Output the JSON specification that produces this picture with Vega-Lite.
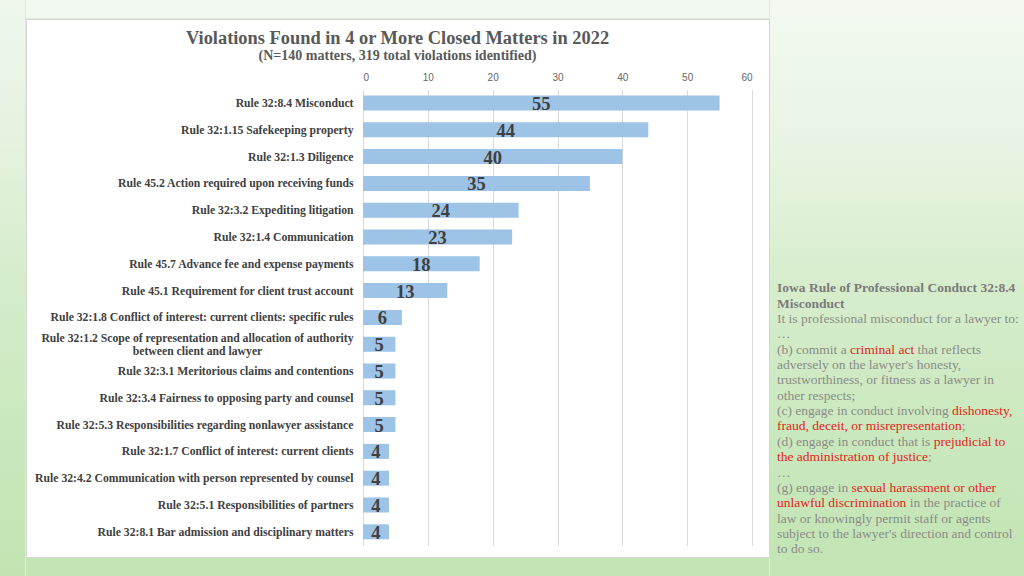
{
  "$schema": "https://vega.github.io/schema/vega-lite/v6.json",
  "padding": 0,
  "background": "#dcefd5",
  "spacing": 0,
  "config": {"view": {"stroke": null}, "concat": {"spacing": 0}},
  "datasets": {
    "blank": [{}],
    "violations": [
      {"rule": "Rule 32:8.4 Misconduct", "count": 55},
      {"rule": "Rule 32:1.15 Safekeeping property", "count": 44},
      {"rule": "Rule 32:1.3 Diligence", "count": 40},
      {"rule": "Rule 45.2 Action required upon receiving funds", "count": 35},
      {"rule": "Rule 32:3.2 Expediting litigation", "count": 24},
      {"rule": "Rule 32:1.4 Communication", "count": 23},
      {"rule": "Rule 45.7 Advance fee and expense payments", "count": 18},
      {"rule": "Rule 45.1 Requirement for client trust account", "count": 13},
      {"rule": "Rule 32:1.8 Conflict of interest: current clients: specific rules", "count": 6},
      {"rule": "Rule 32:1.2 Scope of representation and allocation of authority between client and lawyer", "count": 5},
      {"rule": "Rule 32:3.1 Meritorious claims and contentions", "count": 5},
      {"rule": "Rule 32:3.4 Fairness to opposing party and counsel", "count": 5},
      {"rule": "Rule 32:5.3 Responsibilities regarding nonlawyer assistance", "count": 5},
      {"rule": "Rule 32:1.7 Conflict of interest: current clients", "count": 4},
      {"rule": "Rule 32:4.2 Communication with person represented by counsel", "count": 4},
      {"rule": "Rule 32:5.1 Responsibilities of partners", "count": 4},
      {"rule": "Rule 32:8.1 Bar admission and disciplinary matters", "count": 4}
    ],
    "notes": [
      {"line": 1, "part": "heading", "pre": "", "text": "Iowa Rule of Professional Conduct 32:8.4"},
      {"line": 2, "part": "heading", "pre": "", "text": "Misconduct"},
      {"line": 3, "part": "body", "pre": "", "text": "It is professional misconduct for a lawyer to:"},
      {"line": 4, "part": "body", "pre": "", "text": "…"},
      {"line": 5, "part": "body", "pre": "", "text": "(b) commit a"},
      {"line": 5, "part": "highlight", "pre": "(b) commit a ", "text": "criminal act"},
      {"line": 5, "part": "body", "pre": "(b) commit a criminal act ", "text": "that reflects"},
      {"line": 6, "part": "body", "pre": "", "text": "adversely on the lawyer's honesty,"},
      {"line": 7, "part": "body", "pre": "", "text": "trustworthiness, or fitness as a lawyer in"},
      {"line": 8, "part": "body", "pre": "", "text": "other respects;"},
      {"line": 9, "part": "body", "pre": "", "text": "(c) engage in conduct involving"},
      {"line": 9, "part": "highlight", "pre": "(c) engage in conduct involving ", "text": "dishonesty,"},
      {"line": 10, "part": "highlight", "pre": "", "text": "fraud, deceit, or misrepresentation"},
      {"line": 10, "part": "body", "pre": "fraud, deceit, or misrepresentation", "text": ";"},
      {"line": 11, "part": "body", "pre": "", "text": "(d) engage in conduct that is"},
      {"line": 11, "part": "highlight", "pre": "(d) engage in conduct that is ", "text": "prejudicial to"},
      {"line": 12, "part": "highlight", "pre": "", "text": "the administration of justice"},
      {"line": 12, "part": "body", "pre": "the administration of justice", "text": ";"},
      {"line": 13, "part": "body", "pre": "", "text": "…"},
      {"line": 14, "part": "body", "pre": "", "text": "(g) engage in"},
      {"line": 14, "part": "highlight", "pre": "(g) engage in ", "text": "sexual harassment or other"},
      {"line": 15, "part": "highlight", "pre": "", "text": "unlawful discrimination"},
      {"line": 15, "part": "body", "pre": "unlawful discrimination ", "text": "in the practice of"},
      {"line": 16, "part": "body", "pre": "", "text": "law or knowingly permit staff or agents"},
      {"line": 17, "part": "body", "pre": "", "text": "subject to the lawyer's direction and control"},
      {"line": 18, "part": "body", "pre": "", "text": "to do so."}
    ]
  },
  "hconcat": [
    {
      "width": 25,
      "height": 576,
      "data": {"name": "blank"},
      "mark": {"type": "rect", "fill": {"gradient": "linear", "x1": 0, "y1": 0, "x2": 0, "y2": 1, "stops": [{"offset": 0, "color": "#eff7ed"}, {"offset": 0.25, "color": "#e4f2de"}, {"offset": 0.5, "color": "#d4ecca"}, {"offset": 0.75, "color": "#c9e8bc"}, {"offset": 1, "color": "#c2e4b3"}]}},
      "encoding": {}
    },
    {
      "spacing": 0,
      "vconcat": [
        {
          "width": 743,
          "height": 18,
          "data": {"name": "blank"},
          "mark": {"type": "rect", "fill": "#f1f8ef"},
          "encoding": {}
        },
        {
          "width": 743,
          "height": 538,
          "view": {"fill": "white", "stroke": "#d6d6d6"},
          "title": {
            "text": "Violations Found in 4 or More Closed Matters in 2022",
            "subtitle": "(N=140 matters, 319 total violations identified)",
            "anchor": "middle",
            "offset": -44,
            "font": "Liberation Serif",
            "fontSize": 18.4,
            "fontWeight": "bold",
            "color": "#595959",
            "subtitleFont": "Liberation Serif",
            "subtitleFontSize": 14,
            "subtitleFontWeight": "bold",
            "subtitleColor": "#595959",
            "subtitlePadding": 2
          },
          "data": {"name": "violations"},
          "encoding": {
            "y": {
              "field": "rule",
              "type": "nominal",
              "sort": null,
              "scale": {"range": [70.6, 526.2], "paddingInner": 0.44, "paddingOuter": 0.22},
              "axis": {
                "title": null,
                "offset": -337,
                "domain": false,
                "ticks": false,
                "grid": false,
                "labelPadding": {"condition": {"test": "datum.value == 'Rule 32:1.2 Scope of representation and allocation of authority between client and lawyer'", "value": 166}, "value": 10},
                "labelAlign": {"condition": {"test": "datum.value == 'Rule 32:1.2 Scope of representation and allocation of authority between client and lawyer'", "value": "center"}, "value": "right"},
                "labelOffset": {"condition": {"test": "datum.value == 'Rule 32:1.2 Scope of representation and allocation of authority between client and lawyer'", "value": -6.5}, "value": 0},
                "labelFont": "Liberation Serif",
                "labelFontSize": 11.7,
                "labelFontWeight": "bold",
                "labelColor": "#404040",
                "labelLimit": 400,
                "labelLineHeight": 13,
                "labelExpr": "datum.label == 'Rule 32:1.2 Scope of representation and allocation of authority between client and lawyer' ? ['Rule 32:1.2 Scope of representation and allocation of authority', 'between client and lawyer'] : datum.label"
              }
            }
          },
          "layer": [
            {
              "mark": {"type": "bar", "color": "#9dc3e6"},
              "encoding": {
                "x": {
                  "field": "count",
                  "type": "quantitative",
                  "scale": {"domain": [0, 60], "range": [337, 726], "nice": false},
                  "axis": {
                    "orient": "top",
                    "offset": -66,
                    "values": [0, 10, 20, 30, 40, 50, 60],
                    "grid": true,
                    "gridColor": "#d9d9d9",
                    "domain": false,
                    "ticks": false,
                    "labelPadding": 3,
                    "labelFont": "Liberation Sans",
                    "labelFontSize": 10,
                    "labelColor": "#666666",
                    "title": null
                  }
                }
              }
            },
            {
              "mark": {"type": "text", "font": "Liberation Serif", "fontSize": 18.5, "fontWeight": "bold", "color": "#404040", "baseline": "middle", "align": "center", "dy": 1},
              "encoding": {
                "x": {"field": "count", "type": "quantitative", "scale": {"domain": [0, 120], "range": [337, 726], "nice": false}, "axis": null},
                "text": {"field": "count", "type": "quantitative"}
              }
            }
          ],
          "resolve": {"scale": {"x": "independent"}, "axis": {"x": "independent"}}
        },
        {
          "width": 743,
          "height": 20,
          "data": {"name": "blank"},
          "mark": {"type": "rect", "fill": "#c3e4b4"},
          "encoding": {}
        }
      ]
    },
    {
      "width": 256,
      "height": 576,
      "layer": [
        {
          "data": {"name": "blank"},
          "mark": {"type": "rect", "fill": {"gradient": "linear", "x1": 0, "y1": 0, "x2": 0, "y2": 1, "stops": [{"offset": 0, "color": "#f3f9f1"}, {"offset": 0.25, "color": "#e8f4e3"}, {"offset": 0.5, "color": "#d6edcc"}, {"offset": 0.75, "color": "#cae8bd"}, {"offset": 1, "color": "#c3e4b4"}]}},
          "encoding": {}
        },
        {
          "data": {"name": "notes"},
          "transform": [{"filter": "datum.part == 'heading'"}],
          "mark": {"type": "text", "align": "left", "baseline": "middle", "dx": 7, "font": "Liberation Serif", "fontSize": 13.5, "fontWeight": "bold", "color": "#7b7b7b"},
          "encoding": {
            "x": {"datum": 0, "type": "quantitative", "scale": {"domain": [0, 1], "range": [0, 256]}, "axis": null},
            "y": {"field": "line", "type": "quantitative", "scale": {"domain": [1, 18], "range": [288.3, 549.3], "zero": false, "nice": false}, "axis": null},
            "text": {"field": "text"}
          }
        },
        {
          "data": {"name": "notes"},
          "transform": [{"filter": "datum.part == 'body'"}],
          "mark": {"type": "text", "align": "left", "baseline": "middle", "font": "Liberation Serif", "fontSize": 13.5, "color": "#8a8c88",
            "dx": {"expr": "7 + 0.0135 * (500*length(datum.pre) - 250*(length(datum.pre) - length(replace(datum.pre, regexp('[ ,.]','g'), ''))) - 222*(length(datum.pre) - length(replace(datum.pre, regexp('[ijlt;:]','g'), ''))) - 167*(length(datum.pre) - length(replace(datum.pre, regexp('[fr()]','g'), ''))) - 111*(length(datum.pre) - length(replace(datum.pre, regexp('s','g'), ''))) - 56*(length(datum.pre) - length(replace(datum.pre, regexp('[acez]','g'), ''))) + 222*(length(datum.pre) - length(replace(datum.pre, regexp('w','g'), ''))) + 278*(length(datum.pre) - length(replace(datum.pre, regexp('m','g'), ''))))"}},
          "encoding": {
            "x": {"datum": 0, "type": "quantitative"},
            "y": {"field": "line", "type": "quantitative"},
            "text": {"field": "text"}
          }
        },
        {
          "data": {"name": "notes"},
          "transform": [{"filter": "datum.part == 'highlight'"}],
          "mark": {"type": "text", "align": "left", "baseline": "middle", "font": "Liberation Serif", "fontSize": 13.5, "color": "#e3231c",
            "dx": {"expr": "7 + 0.0135 * (500*length(datum.pre) - 250*(length(datum.pre) - length(replace(datum.pre, regexp('[ ,.]','g'), ''))) - 222*(length(datum.pre) - length(replace(datum.pre, regexp('[ijlt;:]','g'), ''))) - 167*(length(datum.pre) - length(replace(datum.pre, regexp('[fr()]','g'), ''))) - 111*(length(datum.pre) - length(replace(datum.pre, regexp('s','g'), ''))) - 56*(length(datum.pre) - length(replace(datum.pre, regexp('[acez]','g'), ''))) + 222*(length(datum.pre) - length(replace(datum.pre, regexp('w','g'), ''))) + 278*(length(datum.pre) - length(replace(datum.pre, regexp('m','g'), ''))))"}},
          "encoding": {
            "x": {"datum": 0, "type": "quantitative"},
            "y": {"field": "line", "type": "quantitative"},
            "text": {"field": "text"}
          }
        }
      ]
    }
  ]
}
